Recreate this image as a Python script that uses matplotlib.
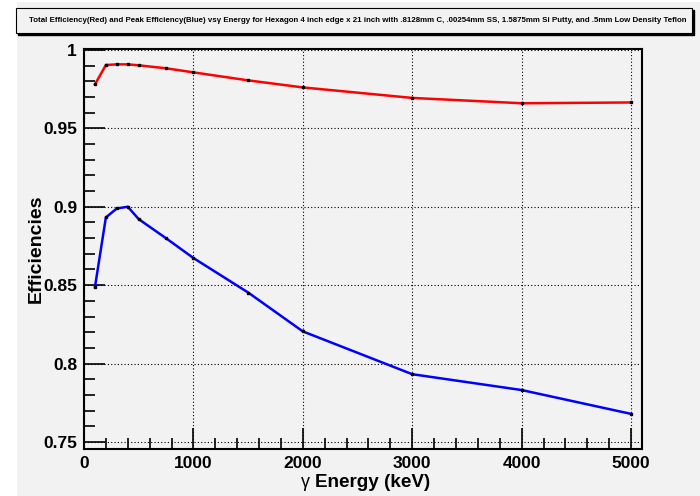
import matplotlib
matplotlib.use('Agg')
import matplotlib.pyplot as plt
from matplotlib.patches import Rectangle
from matplotlib.ticker import MultipleLocator

energy = [100, 200, 300, 400, 500, 750, 1000, 1500, 2000, 3000, 4000, 5000]
total_eff = [0.978, 0.9904, 0.9908, 0.9908, 0.9902, 0.9883, 0.9857, 0.9806,
             0.9761, 0.9694, 0.9660, 0.9665]
peak_eff = [0.8487, 0.8932, 0.8989, 0.9000, 0.8921, 0.8799, 0.8673, 0.8453,
            0.8205, 0.7932, 0.7831, 0.7679]

title = ('Total Efficiency(Red) and Peak Efficiency(Blue) vs\u03b3 Energy for Hexagon 4 inch edge x 21 inch '
         'with .8128mm C, .00254mm SS, 1.5875mm Si Putty, and .5mm Low Density Teflon')

plt.rcParams['font.family'] = ['Liberation Sans', 'DejaVu Sans']
bg = '#f2f2f2'

fig = plt.figure(figsize=(7, 4.96), dpi=100, facecolor=bg)
# thin white strips on the left and top of the canvas
fig.patches.append(Rectangle((0, 0), 17 / 700, 1, transform=fig.transFigure,
                             facecolor='white', edgecolor='none'))
fig.patches.append(Rectangle((0, 1 - 2 / 496), 1, 2 / 496, transform=fig.transFigure,
                             facecolor='white', edgecolor='none'))

ax = fig.add_axes([84 / 700, 47 / 496, 558 / 700, 400 / 496])
ax.set_facecolor(bg)

ax.plot(energy, total_eff, color='#ff0000', lw=1.8, zorder=3)
ax.plot(energy, peak_eff, color='#0000ff', lw=1.8, zorder=3)
ax.plot(energy, total_eff, 's', color='black', ms=2, zorder=4)
ax.plot(energy, peak_eff, 's', color='black', ms=2, zorder=4)

ax.set_xlim(0, 5100)
ax.set_ylim(0.7455, 1.0006)
ax.xaxis.set_major_locator(MultipleLocator(1000))
ax.xaxis.set_minor_locator(MultipleLocator(200))
ax.yaxis.set_minor_locator(MultipleLocator(0.01))
ax.set_yticks([0.75, 0.8, 0.85, 0.9, 0.95, 1.0])
ax.set_yticklabels(['0.75', '0.8', '0.85', '0.9', '0.95', '1'])

ax.tick_params(which='both', direction='in', top=False, right=False, width=1.2)
ax.tick_params(which='major', length=15, labelsize=12.5, pad=5)
ax.tick_params(which='minor', length=8)
for lab in ax.get_xticklabels() + ax.get_yticklabels():
    lab.set_fontweight('bold')
for s in ax.spines.values():
    s.set_linewidth(1.5)

ax.grid(True, which='major', color='black', linestyle=(0, (1, 2)), lw=0.8)

ax.set_ylabel('Efficiencies', fontsize=14, fontweight='bold', labelpad=-1)
fig.text(301 / 700, 1 - 487 / 496, '\u03b3', fontsize=13, ha='left', va='baseline')
fig.text(315 / 700, 1 - 487 / 496, 'Energy (keV)', fontsize=13.6, fontweight='bold',
         ha='left', va='baseline')

# title box with shadow
fig.patches.append(Rectangle((16 / 700 + 0.003, 1 - 35 / 496), 676 / 700, 25 / 496,
                             transform=fig.transFigure, facecolor='black', edgecolor='black'))
fig.patches.append(Rectangle((16 / 700, 1 - 33 / 496), 676 / 700, 25 / 496,
                             transform=fig.transFigure, facecolor=bg, edgecolor='black', lw=0.8))
fig.text(358 / 700, 1 - 21 / 496, title, fontsize=5.7, fontweight='bold',
         ha='center', va='center')

fig.savefig('out.png', dpi=100, facecolor=bg)
